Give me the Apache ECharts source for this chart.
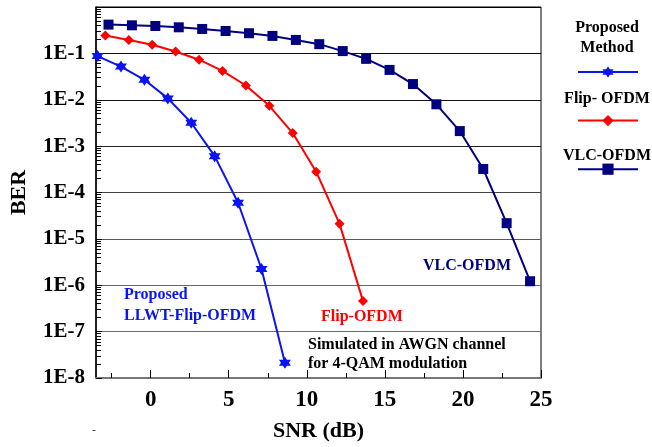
<!DOCTYPE html>
<html>
<head>
<meta charset="utf-8">
<script src="https://cdn.jsdelivr.net/npm/echarts@6/dist/echarts.min.js"></script>
<style>
  html, body { margin: 0; padding: 0; background: #fff; }
  #chart { width: 652px; height: 447px; }
</style>
</head>
<body>
<div id="chart"></div>
<script>
// BER vs SNR curves (4-QAM, AWGN)
const snrProposed = [-3.4, -1.9, -0.4, 1.1, 2.6, 4.1, 5.6, 7.1, 8.6];
const berProposed = [0.0875, 0.0518, 0.0269, 0.0107, 3.19e-3, 6.08e-4, 6.0e-5, 2.24e-6, 2.14e-8];

const snrFlip = [-2.9, -1.4, 0.1, 1.6, 3.1, 4.6, 6.1, 7.6, 9.1, 10.6, 12.1, 13.6];
const berFlip = [0.243, 0.195, 0.153, 0.110, 0.0730, 0.0419, 0.0203, 7.38e-3, 1.91e-3, 2.81e-4, 2.11e-5, 4.55e-7];

const snrVlc = [-2.7, -1.2, 0.3, 1.8, 3.3, 4.8, 6.3, 7.8, 9.3, 10.8, 12.3, 13.8, 15.3, 16.8, 18.3, 19.8, 21.3, 22.8, 24.3];
const berVlc = [0.417, 0.403, 0.389, 0.365, 0.336, 0.304, 0.272, 0.238, 0.195, 0.158, 0.112, 0.0762, 0.0440, 0.0218, 7.98e-3, 2.11e-3, 3.21e-4, 2.18e-5, 1.22e-6];

const xLabels = [0, 5, 10, 15, 20, 25];
const xMinorTicks = [-2.5, 2.5, 7.5, 12.5, 17.5, 22.5];
const yDecades = [1e-8, 1e-7, 1e-6, 1e-5, 1e-4, 1e-3, 1e-2, 1e-1, 1];
const yMinorTicks = [];
for (let e = -8; e < 0; e++) {
  for (let k = 2; k <= 9; k++) yMinorTicks.push(Number((k * Math.pow(10, e)).toPrecision(3)));
}

const pairs = (xs, ys) => xs.map((x, i) => [x, ys[i]]);

const STAR = 'path://M0,-10 L2.89,-5 L8.66,-5 L5.77,0 L8.66,5 L2.89,5 L0,10 L-2.89,5 L-8.66,5 L-5.77,0 L-8.66,-5 L-2.89,-5 Z';
const SERIF = '"Liberation Serif", "DejaVu Serif", serif';
const BLUE = '#0a14f0';

const chart = echarts.init(document.getElementById('chart'), null, { renderer: 'canvas' });

chart.setOption({
  animation: false,
  backgroundColor: '#fff',
  grid: {
    left: 92, top: 7, right: 111, bottom: 66,
    show: true, borderColor: '#000', borderWidth: 1
  },
  legend: {
    orient: 'vertical',
    left: 577, top: 65,
    padding: 0,
    itemWidth: 60, itemHeight: 14, itemGap: 36,
    formatter: () => '',
    data: ['Proposed Method', 'Flip- OFDM', 'VLC-OFDM']
  },
  xAxis: [{
    type: 'value', min: -3.5, max: 25,
    axisLine: { show: true, onZero: false, lineStyle: { color: '#777', width: 2 } },
    axisTick: { show: true, inside: true, length: 8, customValues: xLabels, lineStyle: { color: '#000', width: 1 } },
    axisLabel: {
      customValues: xLabels, margin: 11,
      color: '#000', fontFamily: SERIF, fontWeight: 'bold', fontSize: 23
    },
    splitLine: { show: false },
    name: 'SNR (dB)', nameLocation: 'middle', nameGap: 42,
    nameTextStyle: { color: '#000', fontFamily: SERIF, fontWeight: 'bold', fontSize: 22 }
  }, {
    type: 'value', min: -3.5, max: 25, position: 'bottom',
    axisLine: { show: false, onZero: false },
    axisTick: { show: true, inside: true, length: 5, customValues: xMinorTicks, lineStyle: { color: '#000', width: 1 } },
    axisLabel: { show: false },
    splitLine: { show: false }
  }],
  yAxis: [{
    type: 'log', logBase: 10, min: 1e-8, max: 1,
    position: 'left',
    axisLine: { show: true, onZero: false, lineStyle: { color: '#000', width: 1.5 } },
    axisTick: { show: true, inside: true, length: 6, customValues: yDecades, lineStyle: { color: '#000' } },
    axisLabel: {
      customValues: yDecades.slice(0, 8), margin: 11,
      formatter: v => '1E' + Math.round(Math.log10(v)),
      color: '#000', fontFamily: SERIF, fontWeight: 'bold', fontSize: 21
    },
    splitLine: {
      show: true,
      lineStyle: { color: ['#666', '#6a6a6a', '#666', '#5a5a5a', '#444', '#222', '#111', '#111', '#000'], width: 1.2 }
    },
    name: 'BER', nameLocation: 'middle', nameGap: 66, nameRotate: 90,
    nameTextStyle: { color: '#000', fontFamily: SERIF, fontWeight: 'bold', fontSize: 22 }
  }, {
    type: 'log', logBase: 10, min: 1e-8, max: 1,
    position: 'left', offset: 0,
    axisLine: { show: false, onZero: false },
    axisTick: { show: true, inside: true, length: 5, customValues: yMinorTicks, lineStyle: { color: '#000', width: 1 } },
    axisLabel: { show: false },
    splitLine: { show: false }
  }],
  series: [{
    name: 'Proposed Method', type: 'line',
    xAxisIndex: 0, yAxisIndex: 0,
    data: pairs(snrProposed, berProposed),
    symbol: STAR, symbolSize: 12,
    lineStyle: { color: BLUE, width: 2 },
    itemStyle: { color: BLUE }
  }, {
    name: 'Flip- OFDM', type: 'line',
    xAxisIndex: 0, yAxisIndex: 0,
    data: pairs(snrFlip, berFlip),
    symbol: 'diamond', symbolSize: 10,
    lineStyle: { color: '#ff0000', width: 2 },
    itemStyle: { color: '#ff0000' }
  }, {
    name: 'VLC-OFDM', type: 'line',
    xAxisIndex: 0, yAxisIndex: 0,
    data: pairs(snrVlc, berVlc),
    symbol: 'rect', symbolSize: 10,
    lineStyle: { color: '#000080', width: 2 },
    itemStyle: { color: '#000080' }
  }],
  graphic: [
    // legend captions
    { type: 'text', x: 607, y: 28, style: { text: 'Proposed', fill: '#000', font: 'bold 16px ' + SERIF, align: 'center', verticalAlign: 'middle' } },
    { type: 'text', x: 607, y: 48, style: { text: 'Method', fill: '#000', font: 'bold 16px ' + SERIF, align: 'center', verticalAlign: 'middle' } },
    { type: 'text', x: 607, y: 99, style: { text: 'Flip- OFDM', fill: '#000', font: 'bold 16px ' + SERIF, align: 'center', verticalAlign: 'middle' } },
    { type: 'text', x: 607, y: 156, style: { text: 'VLC-OFDM', fill: '#000', font: 'bold 16px ' + SERIF, align: 'center', verticalAlign: 'middle' } },
    // curve annotations
    { type: 'text', x: 124, y: 287, style: { text: 'Proposed', fill: BLUE, font: 'bold 16px ' + SERIF } },
    { type: 'text', x: 124, y: 308, style: { text: 'LLWT-Flip-OFDM', fill: BLUE, font: 'bold 16px ' + SERIF } },
    { type: 'text', x: 321, y: 309, style: { text: 'Flip-OFDM', fill: '#ff0000', font: 'bold 16px ' + SERIF } },
    { type: 'text', x: 423, y: 258, style: { text: 'VLC-OFDM', fill: '#000080', font: 'bold 16px ' + SERIF } },
    { type: 'text', x: 308, y: 337, style: { text: 'Simulated in AWGN channel', fill: '#000', font: 'bold 16px ' + SERIF } },
    { type: 'text', x: 308, y: 356, style: { text: 'for 4-QAM modulation', fill: '#000', font: 'bold 16px ' + SERIF } },
    { type: 'text', x: 92, y: 425, style: { text: '-', fill: '#444', font: '12px ' + SERIF } }
  ]
});
</script>
</body>
</html>
